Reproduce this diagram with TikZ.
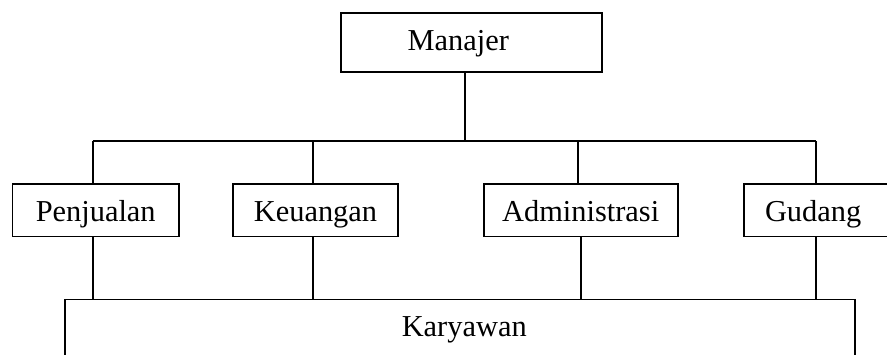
\documentclass[tikz,border=0pt]{standalone}
\usepackage{fontspec}
\setmainfont{Liberation Serif}

\begin{document}
\begin{tikzpicture}[x=1pt, y=-1pt, line width=1.6pt,
  box/.style={draw, line width=1.6pt, inner ysep=0pt, font=\fontsize{30.4}{36}\selectfont},
  unit/.style={box, inner xsep=0pt, minimum height=52.7pt, text height=30.8pt, text depth=8pt}]
\useasboundingbox (0,0) rectangle (887,354);
\clip (0,0) rectangle (887,354);
% boxes
\node[box, minimum height=59pt, text height=25pt, text depth=10pt, align=left, text width=127.6pt, inner xsep=66.7pt] (man) at (471.5,42.5){Manajer};
\node[unit, minimum width=166.7pt] (pen) at (95.7,210.3){Penjualan};
\node[unit, minimum width=165pt] (keu) at (315.5,210.3){Keuangan};
\node[unit, minimum width=194pt] (adm) at (580.7,210.3){Administrasi};
\node[unit, align=left, text width=114pt, inner xsep=21pt] (gud) at (822,210.3){Gudang};
\node[box, align=right, text width=133.4pt, inner xsep=328.3pt, text height=37.4pt, text depth=40pt] (kar) at (460,338){Karyawan};
% lines
\coordinate (busL) at (92.7,141);
\coordinate (ktap) at (313,141);
\coordinate (mtap) at (465,141);
\coordinate (atap) at (578,141);
\coordinate (busR) at (816,141);
\draw (busL) -- (busR);
\draw (man.south -| mtap) -- (mtap);
\draw (busL) -- (busL |- pen.north);
\draw (ktap) -- (ktap |- keu.north);
\draw (atap) -- (atap |- adm.north);
\draw (busR) -- (busR |- gud.north);
\draw (pen.south -| busL) -- (busL |- kar.north);
\draw (keu.south -| ktap) -- (ktap |- kar.north);
\draw (adm.south) -- (adm.south |- kar.north);
\draw (gud.south -| busR) -- (busR |- kar.north);
\end{tikzpicture}
\end{document}
